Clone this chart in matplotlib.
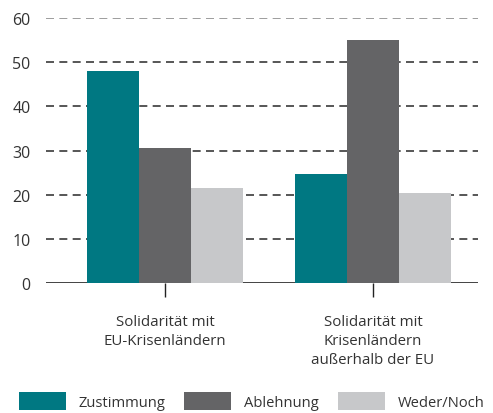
import numpy as np
import matplotlib
matplotlib.use('Agg')
import matplotlib.pyplot as plt
from matplotlib.patches import Patch

plt.rcParams['font.family'] = ['Open Sans', 'DejaVu Sans']

categories = ['Solidarität mit\nEU-Krisenländern',
              'Solidarität mit\nKrisenländern\naußerhalb der EU']
series = ['Zustimmung', 'Ablehnung', 'Weder/Noch']
values = {
    'Zustimmung': [48.0, 24.7],
    'Ablehnung': [30.6, 55.0],
    'Weder/Noch': [21.5, 20.4],
}
colors = {'Zustimmung': '#007882', 'Ablehnung': '#646466', 'Weder/Noch': '#c7c8ca'}
yticks = [0, 10, 20, 30, 40, 50, 60]

fig = plt.figure(figsize=(4.93, 4.14), dpi=100)
ax = fig.add_axes([46 / 493, 1 - 284 / 414, 432 / 493, 265 / 414])

x = np.arange(len(categories))
width = 0.25
for i, s in enumerate(series):
    ax.bar(x + (i - 1) * width, values[s], width, color=colors[s], zorder=3)

# dashed gridlines, top one lighter
for t in yticks[1:]:
    c = '#8c8c8c' if t == 60 else '#3a3a3a'
    ax.axhline(t, color=c, lw=1.2, dashes=(4.8, 3.2), zorder=1)
ax.axhline(0, color='#222222', lw=1.2, zorder=2)

ax.set_xlim(-0.572, 1.505)
ax.set_ylim(0, 60)
ax.set_yticks(yticks)
ax.set_xticks(x)
ax.set_xticklabels(categories, fontsize=10.8, color='#333333', linespacing=1.4)
ax.tick_params(axis='y', length=0, pad=11, labelsize=11.5, labelcolor='#333333')
ax.tick_params(axis='x', length=10, width=1, color='#222222', pad=12)
for sp in ax.spines.values():
    sp.set_visible(False)

handles = [Patch(facecolor=colors[s], label=s) for s in series]
fig.legend(handles=handles, loc='lower center', bbox_to_anchor=(0.51, -0.025), ncol=3,
           frameon=False, fontsize=10.6, handlelength=3.2, handleheight=1.45,
           handletextpad=0.85, columnspacing=1.3, labelcolor='#333333')

fig.savefig('out.png', dpi=100)
